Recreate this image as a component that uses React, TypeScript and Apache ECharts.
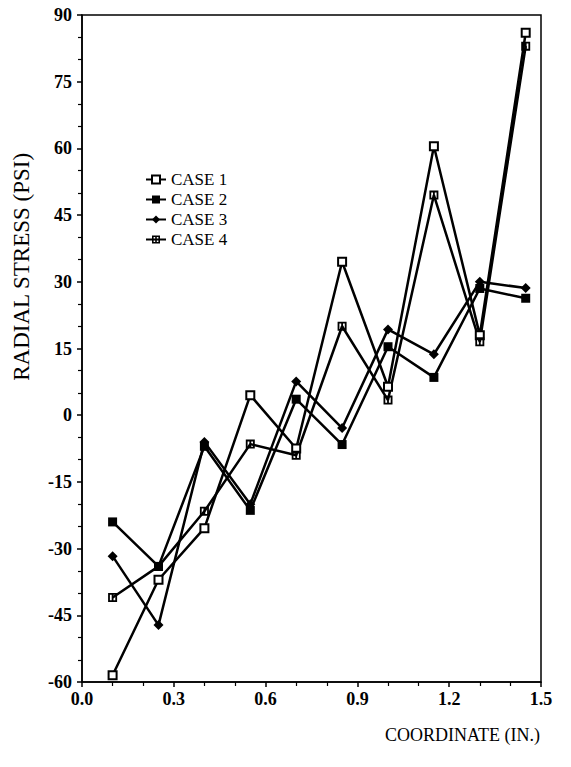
import React, { useEffect, useRef } from "react";
import * as echarts from "echarts";

const xValues = [0.1, 0.25, 0.4, 0.55, 0.7, 0.85, 1.0, 1.15, 1.3, 1.45];
const case1 = [-58.5, -37, -25.4, 4.5, -7.5, 34.5, 6.4, 60.5, 18, 86];
const case2 = [-24, -34, -7, -21.4, 3.6, -6.6, 15.4, 8.5, 28.5, 26.3];
const case3 = [-31.7, -47.2, -6, -20, 7.6, -2.9, 19.3, 13.7, 30, 28.6];
const case4 = [-41, -34, -21.6, -6.5, -9, 20, 3.4, 49.5, 16.5, 83];
const seriesNames = ["CASE 1", "CASE 2", "CASE 3", "CASE 4"];

const FONT = "'Liberation Serif', 'DejaVu Serif', serif";

const pair = (ys: number[]) => xValues.map((x, i) => [x, ys[i]]);

export default function App() {
  const ref = useRef<HTMLDivElement>(null);
  useEffect(() => {
    if (!ref.current) return;
    const chart = echarts.init(ref.current, null, { renderer: "svg" });
    const line = { color: "#000", width: 2.5 };
    const mk = (name: string, data: number[], symbol: string, size: number, fill: string) => ({
      name,
      type: "line",
      data: pair(data),
      symbol,
      symbolSize: size,
      lineStyle: line,
      itemStyle: { color: fill, borderColor: "#000", borderWidth: fill === "#fff" ? 2 : 0 },
      z: 3,
    });
    chart.setOption({
      animation: false,
      backgroundColor: "#fff",
      grid: {
        left: 82,
        right: 30,
        top: 15,
        bottom: 85,
        show: true,
        borderColor: "#000",
        borderWidth: 1.5,
      },
      legend: {
        orient: "vertical",
        left: 140,
        top: 166,
        itemGap: 3,
        itemWidth: 20,
        itemHeight: 10,
        data: seriesNames,
        textStyle: { fontFamily: FONT, fontSize: 17, color: "#000" },
      },
      xAxis: {
        type: "value",
        min: 0,
        max: 1.5,
        interval: 0.3,
        axisLine: { onZero: false, lineStyle: { color: "#000", width: 1.5 } },
        axisTick: { inside: false, length: 5, lineStyle: { color: "#000", width: 1.5 } },
        minorTick: { show: true, splitNumber: 3, length: 4, lineStyle: { color: "#000", width: 1.2 } },
        splitLine: { show: false },
        axisLabel: {
          formatter: (v: number) => v.toFixed(1),
          fontFamily: FONT,
          fontSize: 18,
          fontWeight: "bold",
          color: "#000",
          margin: 8,
        },
      },
      yAxis: {
        type: "value",
        min: -60,
        max: 90,
        interval: 15,
        axisLine: { onZero: false, lineStyle: { color: "#000", width: 1.5 } },
        axisTick: { inside: false, length: 5, lineStyle: { color: "#000", width: 1.5 } },
        minorTick: { show: true, splitNumber: 3, length: 4, lineStyle: { color: "#000", width: 1.2 } },
        splitLine: { show: false },
        axisLabel: {
          fontFamily: FONT,
          fontSize: 18,
          fontWeight: "bold",
          color: "#000",
          margin: 10,
        },
      },
      graphic: [
        {
          type: "text",
          left: 10,
          top: 152,
          rotation: Math.PI / 2,
          style: {
            text: "RADIAL STRESS (PSI)",
            fontFamily: FONT,
            fontSize: 23,
            fill: "#000",
          },
        },
        {
          type: "text",
          left: 385,
          top: 726,
          style: {
            text: "COORDINATE (IN.)",
            fontFamily: FONT,
            fontSize: 18,
            fill: "#000",
          },
        },
      ],
      series: [
        mk(seriesNames[0], case1, "rect", 8, "#fff"),
        mk(seriesNames[1], case2, "rect", 9, "#000"),
        mk(seriesNames[2], case3, "diamond", 10, "#000"),
        mk(
          seriesNames[3],
          case4,
          "path://M0,0H10V10H0Z M2,2V8H8V2Z M4,2H6V8H4Z",
          9,
          "#000"
        ),
      ],
    });
    return () => chart.dispose();
  }, []);
  return (
    <div
      ref={ref}
      style={{ position: "fixed", left: 0, top: 0, width: 571, height: 767, background: "#fff" }}
    />
  );
}
